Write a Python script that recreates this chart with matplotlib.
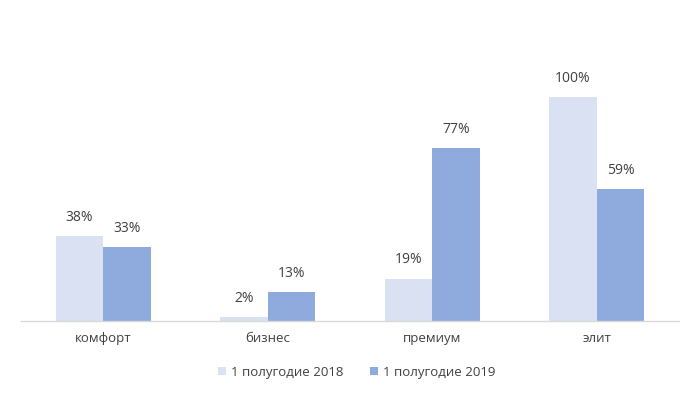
import matplotlib.pyplot as plt
import numpy as np

categories = ["комфорт", "бизнес", "премиум", "элит"]
series_names = ["1 полугодие 2018", "1 полугодие 2019"]
values_2018 = [38, 2, 19, 100]
values_2019 = [33, 13, 77, 59]

colors = ["#D9E1F2", "#8FAADC"]
text_color = "#404040"

plt.rcParams["font.family"] = ["Open Sans", "DejaVu Sans"]

fig = plt.figure(figsize=(7.0, 3.96), dpi=100)
ax = fig.add_axes([0.03, 0.189, 0.94, 0.68])

x = np.arange(len(categories))
width = 0.29
for i, (vals, name) in enumerate(zip([values_2018, values_2019], series_names)):
    offs = (i - 0.5) * width
    bars = ax.bar(x + offs, vals, width, color=colors[i], label=name)
    for b, v in zip(bars, vals):
        ax.annotate(f"{v}%", (b.get_x() + b.get_width() / 2, v),
                    xytext=(0, 8), textcoords="offset points",
                    ha="center", va="bottom", fontsize=10, color=text_color)

ax.set_xlim(-0.5, 3.5)
ax.set_ylim(0, 120)
ax.set_yticks([])
ax.set_xticks(x)
ax.set_xticklabels(categories, fontsize=9.5, color=text_color)
ax.tick_params(axis="x", length=0, pad=8)
for s in ["top", "right", "left"]:
    ax.spines[s].set_visible(False)
ax.spines["bottom"].set_color("#D9D9D9")
ax.spines["bottom"].set_linewidth(1)

leg = fig.legend(loc="center", bbox_to_anchor=(0.51, 0.06), ncol=2, frameon=False,
                 fontsize=9.5, handlelength=0.6, handleheight=0.6, handletextpad=0.4,
                 columnspacing=2.0)
for t in leg.get_texts():
    t.set_color(text_color)

fig.savefig("out.png", dpi=100)
